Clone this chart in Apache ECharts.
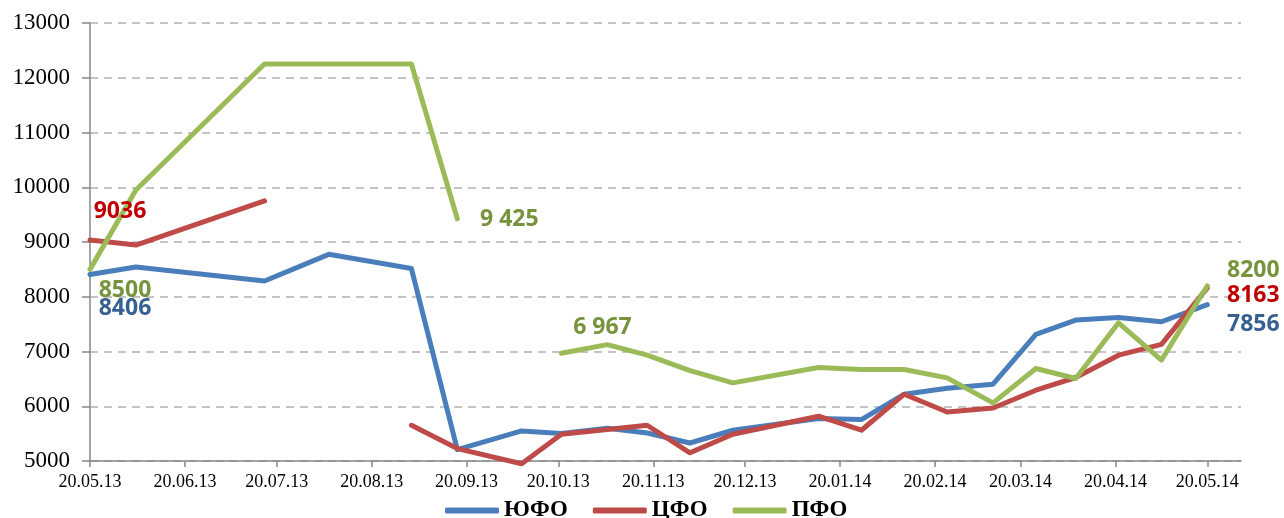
<!DOCTYPE html>
<html>
<head>
<meta charset="utf-8">
<script src="https://cdn.jsdelivr.net/npm/echarts@6/dist/echarts.min.js"></script>
<style>
  html, body { margin: 0; padding: 0; background: #fff; }
  #chart { width: 1284px; height: 518px; }
</style>
</head>
<body>
<div id="chart"></div>
<script>
// dates of the observations
const dates = [
  '2013-05-20', '2013-06-04', '2013-07-16', '2013-08-06', '2013-09-02', '2013-09-17',
  '2013-10-08', '2013-10-21', '2013-11-05', '2013-11-18', '2013-12-02', '2013-12-16',
  '2014-01-13', '2014-01-27', '2014-02-10', '2014-02-24', '2014-03-11', '2014-03-25',
  '2014-04-07', '2014-04-21', '2014-05-05', '2014-05-20'
];
const yufo = [8406, 8545, 8287, 8775, 8515, 5208, 5549, 5501, 5600, 5512, 5329, 5562,
  5776, 5757, 6220, 6330, 6403, 7312, 7574, 7623, 7543, 7856];
const cfo = [9036, 8945, 9750, null, 5653, 5227, 4950, 5488, 5574, 5653, 5150, 5488,
  5818, 5562, 6220, 5896, 5969, 6293, 6525, 6933, 7129, 8163];
const pfo = [8500, 9951, 12251, 12251, 12251, 9425, null, 6967, 7125, 6933, 6650, 6427,
  6708, 6672, 6672, 6518, 6061, 6690, 6507, 7524, 6842, 8200];
const tickLabels = ['20.05.13', '20.06.13', '20.07.13', '20.08.13', '20.09.13', '20.10.13',
  '20.11.13', '20.12.13', '20.01.14', '20.02.14', '20.03.14', '20.04.14', '20.05.14'];

const DAY = 86400000;
function isoDay(s) {
  const p = s.split('-');
  return Date.UTC(+p[0], +p[1] - 1, +p[2]) / DAY;
}
function labelDay(s) {
  const p = s.split('.');
  return Date.UTC(2000 + (+p[2]), +p[1] - 1, +p[0]) / DAY;
}
const tickValues = tickLabels.map(labelDay);
const dayValues = dates.map(isoDay);

function spaced(v) {
  return String(v).replace(/\B(?=(\d{3})+$)/, ' ');
}

// which points carry a value label: [index, dx, dy, spaced]
function build(vals, textColor, marks) {
  return dayValues.map(function (d, i) {
    const item = { value: [d, vals[i] == null ? '-' : vals[i]] };
    const m = marks.filter(function (x) { return x[0] === i; })[0];
    if (m) {
      item.label = {
        show: true,
        position: 'inside',
        offset: [m[1], m[2]],
        color: textColor,
        fontFamily: 'Open Sans',
        fontWeight: 'bold',
        fontSize: 23,
        formatter: m[3] ? spaced(vals[i]) : String(vals[i])
      };
    }
    return item;
  });
}

function line(name, color, data) {
  return {
    name: name,
    type: 'line',
    data: data,
    showSymbol: true,
    showAllSymbol: true,
    symbol: 'circle',
    symbolSize: 0,
    clip: false,
    connectNulls: false,
    lineStyle: { color: color, width: 5, cap: 'round', join: 'round' },
    itemStyle: { color: color },
    emphasis: { disabled: true },
    label: { show: false }
  };
}

const myChart = echarts.init(document.getElementById('chart'));
myChart.setOption({
  animation: false,
  backgroundColor: '#fff',
  grid: { left: 90, top: 23, width: 1151, height: 438 },
  legend: {
    left: 440,
    top: 494,
    icon: 'roundRect',
    itemWidth: 54,
    itemHeight: 6,
    itemGap: 25,
    textStyle: { fontFamily: 'Liberation Serif', fontWeight: 'bold', fontSize: 23, color: '#000' },
    data: ['ЮФО', 'ЦФО', 'ПФО']
  },
  xAxis: {
    type: 'value',
    min: tickValues[0],
    max: isoDay('2014-05-31'),
    axisLine: { show: true, onZero: false, lineStyle: { color: '#878787', width: 1.5 } },
    axisTick: { show: true, length: 6, customValues: tickValues, lineStyle: { color: '#878787', width: 1.5 } },
    axisLabel: {
      customValues: tickValues,
      margin: 12,
      color: '#000',
      fontFamily: 'Liberation Serif',
      fontSize: 18,
      formatter: function (v) {
        const i = tickValues.indexOf(v);
        return i >= 0 ? tickLabels[i] : '';
      }
    },
    splitLine: { show: false }
  },
  yAxis: {
    type: 'value',
    min: 5000,
    max: 13000,
    interval: 1000,
    axisLine: { show: true, lineStyle: { color: '#878787', width: 1.5 } },
    axisTick: { show: true, length: 8, lineStyle: { color: '#878787', width: 1.5 } },
    axisLabel: {
      margin: 20, color: '#000', fontFamily: 'Liberation Serif', fontSize: 23,
      formatter: function (v) { return String(v); }
    },
    splitLine: { show: true, lineStyle: { color: '#B3B3B3', width: 1.5, type: [8, 6] } }
  },
  series: [
    line('ЮФО', '#4A7EBB', build(yufo, '#376092', [[0, 35, 34], [21, 46, 20]])),
    line('ЦФО', '#BE4B48', build(cfo, '#C00000', [[0, 30, -29], [21, 46, 8]])),
    line('ПФО', '#9BBB59', build(pfo, '#77933C', [[0, 35, 21], [5, 52, 1, true], [7, 41, -26, true], [21, 46, -15]]))
  ]
});
</script>
</body>
</html>
